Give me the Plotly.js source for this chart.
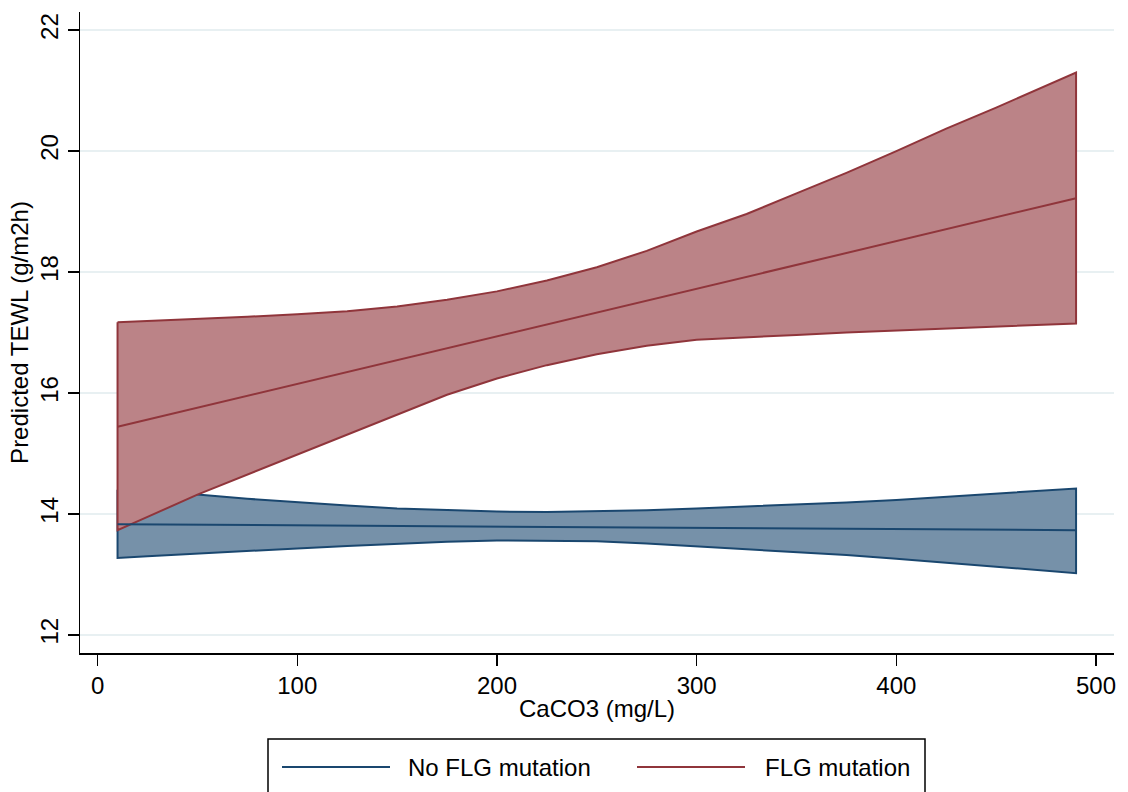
<!DOCTYPE html>
<html>
<head>
<meta charset="utf-8">
<script src="https://cdn.plot.ly/plotly-3.0.1.min.js"></script>
<style>
  html, body { margin: 0; padding: 0; background: #ffffff; }
  #chart { width: 1128px; height: 792px; }
</style>
</head>
<body>
<div id="chart"></div>
<script>
// ---- data ----
// confidence bands (read at 25 mg/L steps)
const bandX = [10, 25, 50, 75, 100, 125, 150, 175, 200, 225, 250, 275, 300, 325, 350, 375, 400, 425, 450, 475, 490];

const noFlgUpper = [14.40, 14.37, 14.32, 14.25, 14.19, 14.14, 14.09, 14.06, 14.04, 14.03, 14.04, 14.06, 14.09, 14.12, 14.16, 14.19, 14.23, 14.28, 14.33, 14.39, 14.42];
const noFlgLower = [13.27, 13.30, 13.34, 13.39, 13.43, 13.47, 13.51, 13.54, 13.56, 13.56, 13.55, 13.51, 13.47, 13.42, 13.37, 13.32, 13.26, 13.20, 13.13, 13.06, 13.02];

const flgUpper = [17.17, 17.19, 17.22, 17.26, 17.30, 17.35, 17.43, 17.54, 17.68, 17.86, 18.08, 18.35, 18.67, 18.96, 19.30, 19.64, 20.00, 20.37, 20.72, 21.08, 21.30];
const flgLower = [13.73, 13.95, 14.32, 14.66, 14.98, 15.31, 15.64, 15.97, 16.24, 16.46, 16.64, 16.78, 16.88, 16.92, 16.96, 17.00, 17.04, 17.07, 17.10, 17.13, 17.15];

// predicted (mean) lines
const meanX = [10, 100, 200, 300, 400, 490];
const noFlgMean = [13.83, 13.81, 13.79, 13.77, 13.75, 13.73];
const flgMean   = [15.44, 16.15, 16.94, 17.72, 18.51, 19.22];

const seriesNames = ["No FLG mutation", "FLG mutation"];
const lineColors  = ["#1a476f", "#90353b"];
const fillColors  = ["#7691a9", "#bb8387"];

const xTicks = [0, 100, 200, 300, 400, 500];
const yTicks = [12, 14, 16, 18, 20, 22];

const FONT = "Liberation Sans, Arial, Helvetica, sans-serif";
const FS = 24;

function band(x, up, lo, i) {
  return {
    type: "scatter", mode: "lines",
    x: x.concat(x.slice().reverse()).concat([x[0]]),
    y: up.concat(lo.slice().reverse()).concat([up[0]]),
    fill: "toself", fillcolor: fillColors[i],
    line: { color: lineColors[i], width: 2 },
    hoverinfo: "skip", showlegend: false
  };
}
function meanLine(x, y, i) {
  return {
    type: "scatter", mode: "lines", x: x, y: y, name: seriesNames[i],
    line: { color: lineColors[i], width: 2 }, showlegend: false
  };
}

const traces = [
  band(bandX, noFlgUpper, noFlgLower, 0),
  band(bandX, flgUpper, flgLower, 1),
  meanLine(meanX, noFlgMean, 0),
  meanLine(meanX, flgMean, 1)
];

// plot area geometry (px) for legend placement
const L = 80, R = 14, T = 12, B = 139, W = 1128, H = 792;
const pw = W - L - R, ph = H - T - B;
const px = v => (v - L) / pw;
const py = v => (H - B - v) / ph;

const shapes = [
  { type: "rect", xref: "paper", yref: "paper",
    x0: px(268), x1: px(925), y0: py(796), y1: py(739),
    line: { color: "#000000", width: 1.5 }, fillcolor: "rgba(0,0,0,0)" }
];
const annotations = [];
const legLineX = [282, 637], legTextX = [406, 763], legY = 767;
seriesNames.forEach((n, i) => {
  shapes.push({ type: "line", xref: "paper", yref: "paper",
    x0: px(legLineX[i]), x1: px(legLineX[i] + 108), y0: py(legY), y1: py(legY),
    line: { color: lineColors[i], width: 2 } });
  annotations.push({ xref: "paper", yref: "paper", x: px(legTextX[i]), y: py(legY),
    xanchor: "left", yanchor: "middle", showarrow: false, text: n,
    font: { family: FONT, size: FS, color: "#000000" } });
});

const layout = {
  width: W, height: H,
  margin: { l: L, r: R, t: T, b: B },
  paper_bgcolor: "#ffffff", plot_bgcolor: "#ffffff",
  font: { family: FONT, size: FS, color: "#000000" },
  showlegend: false,
  xaxis: {
    range: [-8.8, 509], tickvals: xTicks, ticktext: xTicks.map(String),
    showgrid: false, zeroline: false,
    showline: true, linecolor: "#000000", linewidth: 1.5,
    ticks: "outside", ticklen: 11, tickwidth: 1.5, tickcolor: "#000000",
    tickfont: { family: FONT, size: FS },
    title: { text: "CaCO3 (mg/L)", font: { family: FONT, size: FS }, standoff: 2 }
  },
  yaxis: {
    range: [11.7, 22.3], tickvals: yTicks, ticktext: yTicks.map(String),
    showgrid: true, gridcolor: "#e8f0f2", gridwidth: 1.5, zeroline: false,
    showline: true, linecolor: "#000000", linewidth: 1.5,
    ticks: "outside", ticklen: 11, tickwidth: 1.5, tickcolor: "#000000",
    tickangle: -90,
    tickfont: { family: FONT, size: FS },
    title: { text: "Predicted TEWL (g/m2h)", font: { family: FONT, size: FS }, standoff: 0 }
  },
  shapes: shapes,
  annotations: annotations
};

Plotly.newPlot("chart", traces, layout, { displayModeBar: false, staticPlot: true });
</script>
</body>
</html>
